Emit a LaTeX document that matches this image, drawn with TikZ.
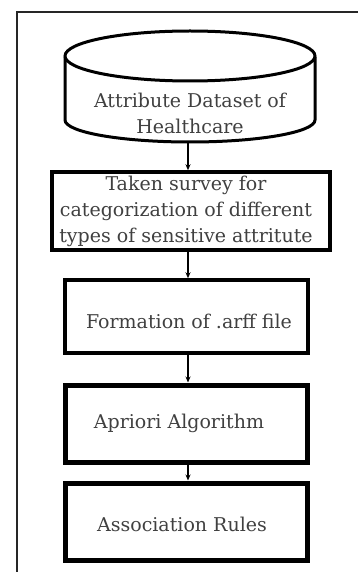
\documentclass[tikz,border=0pt]{standalone}
\usepackage{fontspec}
\setmainfont{DejaVu Serif}
\usetikzlibrary{arrows.meta}
\tikzset{
  frame/.style={line width=1.5pt, black!85},
  boxA/.style={draw, line width=3.5pt, rectangle, inner sep=0pt},
  boxB/.style={draw, line width=5pt, rectangle, inner sep=0pt},
  lbl/.style={text=black!75, font=\fontsize{19}{26}\selectfont, align=center, inner sep=0pt},
  arr/.style={line width=1.3pt, -{Stealth[length=6pt,width=5pt]}},
  cylline/.style={line width=3pt}
}
\begin{document}
\begin{tikzpicture}[x=1pt,y=-1pt]
\useasboundingbox (0,0) rectangle (358,572);
% outer frame
\draw[frame] (358,12) -- (17,12) -- (17,572);
% cylinder
\draw[cylline] (65,57) -- (65,120) arc[start angle=180,end angle=360,x radius=125,y radius=-22] -- (315,57);
\draw[cylline] (190,56) ellipse[x radius=125, y radius=25];
\node[minimum width=250pt, minimum height=112pt, inner sep=0pt] (cyl) at (190,86) {};
\node[lbl] (cyltxt) at (190,113) {Attribute Dataset of\\Healthcare};
% boxes
\node[boxA, minimum width=278pt, minimum height=78pt] (b2) at (191,211) {};
\node[lbl] (t2) at (186,211) {Taken survey for\\categorization of different\\types of sensitive attritute};
\node[boxA, minimum width=243pt, minimum height=73pt] (b3) at (186.5,316.5) {};
\node[lbl] (t3) at (189,321) {Formation of .arff file};
\node[boxB, minimum width=242pt, minimum height=77pt] (b4) at (186,423.5) {};
\node[lbl] (t4) at (179,423) {Apriori Algorithm};
\node[boxB, minimum width=242pt, minimum height=77pt] (b5) at (186,521.5) {};
\node[lbl] (t5) at (182,524) {Association Rules};
\coordinate (ax) at (188,0);
% connectors
\draw[arr] (cyl.south -| ax) -- (b2.north -| ax);
\draw[arr] (b2.south -| ax) -- (b3.north -| ax);
\draw[arr] (b3.south -| ax) -- (b4.north -| ax);
\draw[arr] (b4.south -| ax) -- (b5.north -| ax);
\end{tikzpicture}
\end{document}
